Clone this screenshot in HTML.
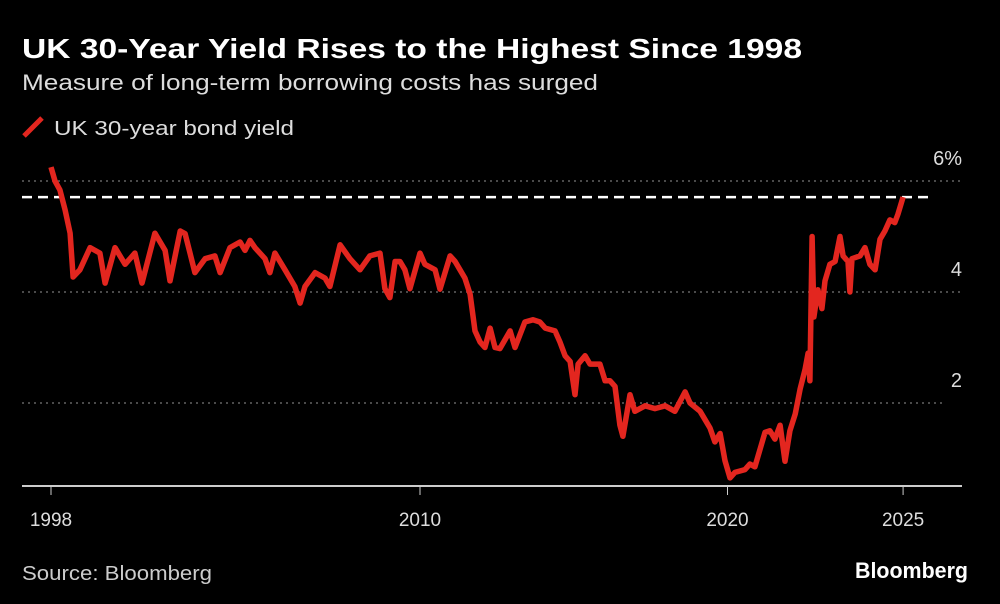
<!DOCTYPE html>
<html><head><meta charset="utf-8"><style>
body{margin:0;background:#000;width:1000px;height:604px;overflow:hidden;font-family:"Liberation Sans",sans-serif;color:#fff}
svg{position:absolute;left:0;top:0}
</style></head><body>
<svg width="1000" height="604">
<text x="22" y="58" font-size="28" font-weight="bold" fill="#fff" textLength="780" lengthAdjust="spacingAndGlyphs">UK 30-Year Yield Rises to the Highest Since 1998</text>
<text x="22" y="90" font-size="22" fill="#ddd" textLength="576" lengthAdjust="spacingAndGlyphs">Measure of long-term borrowing costs has surged</text>
<g><line x1="24" y1="136" x2="42" y2="118" stroke="#e3261f" stroke-width="5"/>
<text x="54" y="135" font-size="20" fill="#ddd" textLength="240" lengthAdjust="spacingAndGlyphs">UK 30-year bond yield</text></g>
<g id="grid"></g><g id="axis"></g><g id="series"></g>
<text x="22" y="580" font-size="20" fill="#ccc" textLength="190" lengthAdjust="spacingAndGlyphs">Source: Bloomberg</text>
<text x="855" y="578" font-size="22" font-weight="bold" fill="#fff" textLength="113" lengthAdjust="spacingAndGlyphs">Bloomberg</text>
</svg>
<script>
const years=[1998.0,1998.13,1998.29,1998.46,1998.62,1998.72,1998.94,1999.27,1999.59,1999.76,2000.08,2000.41,2000.73,2000.96,2001.38,2001.71,2001.87,2002.2,2002.36,2002.52,2002.68,2003.01,2003.33,2003.5,2003.82,2004.15,2004.31,2004.47,2004.63,2004.96,2005.12,2005.28,2005.61,2005.93,2006.1,2006.26,2006.59,2006.91,2007.07,2007.4,2007.72,2008.05,2008.37,2008.7,2008.86,2009.02,2009.19,2009.35,2009.51,2009.67,2010.0,2010.16,2010.49,2010.65,2010.98,2011.14,2011.3,2011.46,2011.63,2011.79,2011.95,2012.11,2012.28,2012.44,2012.6,2012.93,2013.09,2013.41,2013.67,2013.9,2014.07,2014.39,2014.55,2014.72,2014.88,2015.04,2015.14,2015.37,2015.53,2015.85,2016.02,2016.18,2016.34,2016.5,2016.6,2016.83,2016.99,2017.32,2017.64,2017.97,2018.29,2018.62,2018.78,2019.11,2019.43,2019.59,2019.76,2019.92,2020.08,2020.24,2020.57,2020.73,2020.89,2021.22,2021.38,2021.54,2021.71,2021.87,2022.03,2022.2,2022.36,2022.52,2022.62,2022.68,2022.75,2022.81,2022.94,2023.07,2023.17,2023.33,2023.5,2023.66,2023.76,2023.92,2023.98,2024.05,2024.31,2024.47,2024.63,2024.8,2024.96,2025.12,2025.28,2025.44,2025.54,2025.71];
const yields=[6.25,6.0,5.84,5.48,5.06,4.27,4.4,4.8,4.7,4.16,4.8,4.5,4.7,4.16,5.06,4.75,4.2,5.1,5.05,4.7,4.35,4.6,4.65,4.35,4.8,4.9,4.75,4.93,4.8,4.6,4.35,4.7,4.4,4.1,3.8,4.1,4.35,4.25,4.1,4.85,4.6,4.4,4.65,4.7,4.06,3.9,4.55,4.55,4.4,4.06,4.7,4.5,4.4,4.05,4.65,4.55,4.4,4.25,3.96,3.3,3.1,3.0,3.35,3.0,2.98,3.3,3.0,3.46,3.5,3.46,3.35,3.3,3.1,2.85,2.75,2.15,2.7,2.85,2.7,2.7,2.4,2.4,2.3,1.6,1.4,2.15,1.85,1.95,1.9,1.95,1.85,2.2,2.0,1.85,1.55,1.3,1.45,0.96,0.65,0.75,0.8,0.9,0.85,1.47,1.5,1.35,1.6,0.95,1.5,1.8,2.25,2.6,2.9,2.4,5.0,3.55,4.04,3.7,4.2,4.5,4.55,5.0,4.65,4.55,4.0,4.6,4.65,4.8,4.5,4.4,4.95,5.1,5.3,5.25,5.4,5.71];
const yTicks=[2,4,6];
const yTickLabels=["2","4","6%"];
const xTicks=[1998,2010,2020,2025.71];
const xTickLabels=["1998","2010","2020","2025"];
const refLevel=[5.71];
const ns="http://www.w3.org/2000/svg";
const X=t=>51+(t-1998)*30.75;
const Y=v=>514-v*55.5;
function mk(tag,attrs,parent,txt){const e=document.createElementNS(ns,tag);for(const k in attrs)e.setAttribute(k,attrs[k]);if(txt!==undefined)e.textContent=txt;document.getElementById(parent).appendChild(e);return e;}
yTicks.forEach((v,i)=>{
 const l=mk('line',{x1:22,x2:v===2?942:962,y1:Y(v),y2:Y(v),stroke:'#777','stroke-width':1.3,'stroke-dasharray':'2 4'},'grid');
 
 
 const t=mk('text',{x:962,y:Y(v)-16,'font-size':20,fill:'#ddd','text-anchor':'end'},'grid',yTickLabels[i]);
 
 
});
refLevel.forEach(v=>{
 const l=mk('line',{x1:22,x2:930,y1:Y(v),y2:Y(v),stroke:'#fff','stroke-width':2.5,'stroke-dasharray':'10 6'},'grid');
 
 
});
const ax=mk('line',{x1:22,x2:962,y1:486,y2:486,stroke:'#ccc','stroke-width':2},'axis');


xTicks.forEach((t,i)=>{
 const tk=mk('line',{x1:X(t),x2:X(t),y1:486,y2:495,stroke:'#ccc','stroke-width':1},'axis');
 
 
 const lb=mk('text',{x:X(t),y:526,'font-size':19,fill:'#ddd','text-anchor':'middle'},'axis',xTickLabels[i]);
 
 
});
const d=years.map((t,i)=>(i?'L':'M')+X(t).toFixed(1)+','+Y(yields[i]).toFixed(1)).join('');
const p=mk('path',{d:d,fill:'none',stroke:'#e3261f','stroke-width':5.5,'stroke-linejoin':'round'},'series');


</script>
</body></html>
